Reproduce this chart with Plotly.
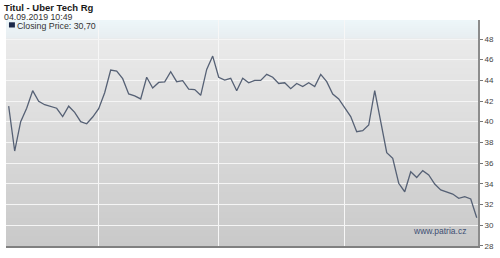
import plotly.graph_objects as go

# ---- data ----
closing_price = [
    41.50, 37.16, 40.00, 41.30, 43.00, 41.97, 41.64, 41.50, 41.30, 40.50,
    41.50, 40.90, 40.00, 39.80, 40.45, 41.26, 42.80, 45.00, 44.90, 44.16,
    42.68, 42.50, 42.20, 44.30, 43.26, 43.80, 43.85, 44.84, 43.87, 43.97,
    43.16, 43.10, 42.55, 45.06, 46.35, 44.30, 44.03, 44.20, 43.00, 44.20,
    43.77, 44.00, 44.00, 44.58, 44.30, 43.70, 43.77, 43.20, 43.70, 43.40,
    43.77, 43.40, 44.58, 43.87, 42.68, 42.20, 41.40, 40.50, 39.03, 39.13,
    39.68, 43.00, 40.00, 37.00, 36.45, 34.04, 33.22, 35.16, 34.60, 35.26,
    34.84, 33.97, 33.40, 33.22, 33.00, 32.58, 32.74, 32.52, 30.70,
]
day_index = list(range(len(closing_price)))
y_ticks = [28, 30, 32, 34, 36, 38, 40, 42, 44, 46, 48]
month_gridlines = [15, 35, 56]

title_text = "Titul - Uber Tech Rg"
date_text = "04.09.2019 10:49"
legend_text = "Closing Price: 30,70"
watermark = "www.patria.cz"

# ---- layout geometry (pixels) ----
W_FIG, H_FIG = 500, 258
L, R, T, B = 6, 483, 20, 246
PW, PH = R - L, B - T


def px(x):
    return (x - L) / PW


def py(y):
    return (B - y) / PH


def lerp(c1, c2, t):
    return tuple(round(a + (b - a) * t) for a, b in zip(c1, c2))


stops = [(20, (237, 246, 250)), (37, (232, 238, 241)), (40, (234, 234, 234)), (246, (201, 201, 201))]


def color_at(y):
    for (y0, c0), (y1, c1) in zip(stops[:-1], stops[1:]):
        if y <= y1:
            t = (y - y0) / (y1 - y0) if y1 > y0 else 0
            return lerp(c0, c1, max(0, min(1, t)))
    return stops[-1][1]


shapes = []
band = 2
y = T
while y < B:
    c = color_at(y + band / 2)
    shapes.append(dict(type="rect", xref="paper", yref="paper", layer="below",
                       x0=0, x1=1, y0=py(min(y + band, B)), y1=py(y),
                       line=dict(width=0), fillcolor="rgb(%d,%d,%d)" % c))
    y += band

# legend marker square
shapes.append(dict(type="rect", xref="paper", yref="paper", layer="above",
                   x0=px(9), x1=px(15), y0=py(27.5), y1=py(22.3),
                   line=dict(width=0), fillcolor="#1c2a4a"))

fig = go.Figure()
fig.add_trace(go.Scatter(
    x=day_index, y=closing_price, mode="lines",
    line=dict(color="#566175", width=1.3),
    hoverinfo="skip", showlegend=False,
))

annotations = [
    dict(text="<b>%s</b>" % title_text, x=px(3), y=py(7.5), xref="paper", yref="paper",
         xanchor="left", yanchor="middle", showarrow=False, borderpad=0,
         font=dict(family="Liberation Sans", size=9.5, color="#1a1a1a")),
    dict(text=date_text, x=px(3), y=py(17), xref="paper", yref="paper",
         xanchor="left", yanchor="middle", showarrow=False, borderpad=0,
         font=dict(family="Liberation Sans", size=8.8, color="#333333")),
    dict(text=legend_text, x=px(16), y=py(26), xref="paper", yref="paper",
         xanchor="left", yanchor="middle", showarrow=False, borderpad=0,
         font=dict(family="Liberation Sans", size=8.8, color="#333333")),
    dict(text=watermark, x=px(444), y=py(231), xref="paper", yref="paper",
         xanchor="center", yanchor="middle", showarrow=False,
         font=dict(family="Liberation Sans", size=8.5, color="#3e4f73")),
]

fig.update_layout(
    width=W_FIG, height=H_FIG,
    margin=dict(l=L, r=W_FIG - R, t=T, b=H_FIG - B, pad=0),
    paper_bgcolor="white", plot_bgcolor="rgba(0,0,0,0)",
    shapes=shapes, annotations=annotations, showlegend=False,
    xaxis=dict(range=[-0.445, 78.21], tickvals=month_gridlines, showticklabels=False,
               showgrid=True, gridcolor="#f7f7f7", gridwidth=1, zeroline=False,
               showline=True, linecolor="#808080", linewidth=2, ticks=""),
    yaxis=dict(range=[27.97, 49.84], side="right", tickvals=y_ticks,
               ticktext=[str(v) for v in y_ticks],
               showgrid=True, gridcolor="#f5f5f5", gridwidth=1, zeroline=False,
               showline=True, linecolor="#8c8c8c", linewidth=2,
               ticks="outside", ticklen=3, tickcolor="#777777", tickwidth=1,
               tickfont=dict(family="Liberation Sans", size=8, color="#444444")),
)

fig.write_html("out.html")
